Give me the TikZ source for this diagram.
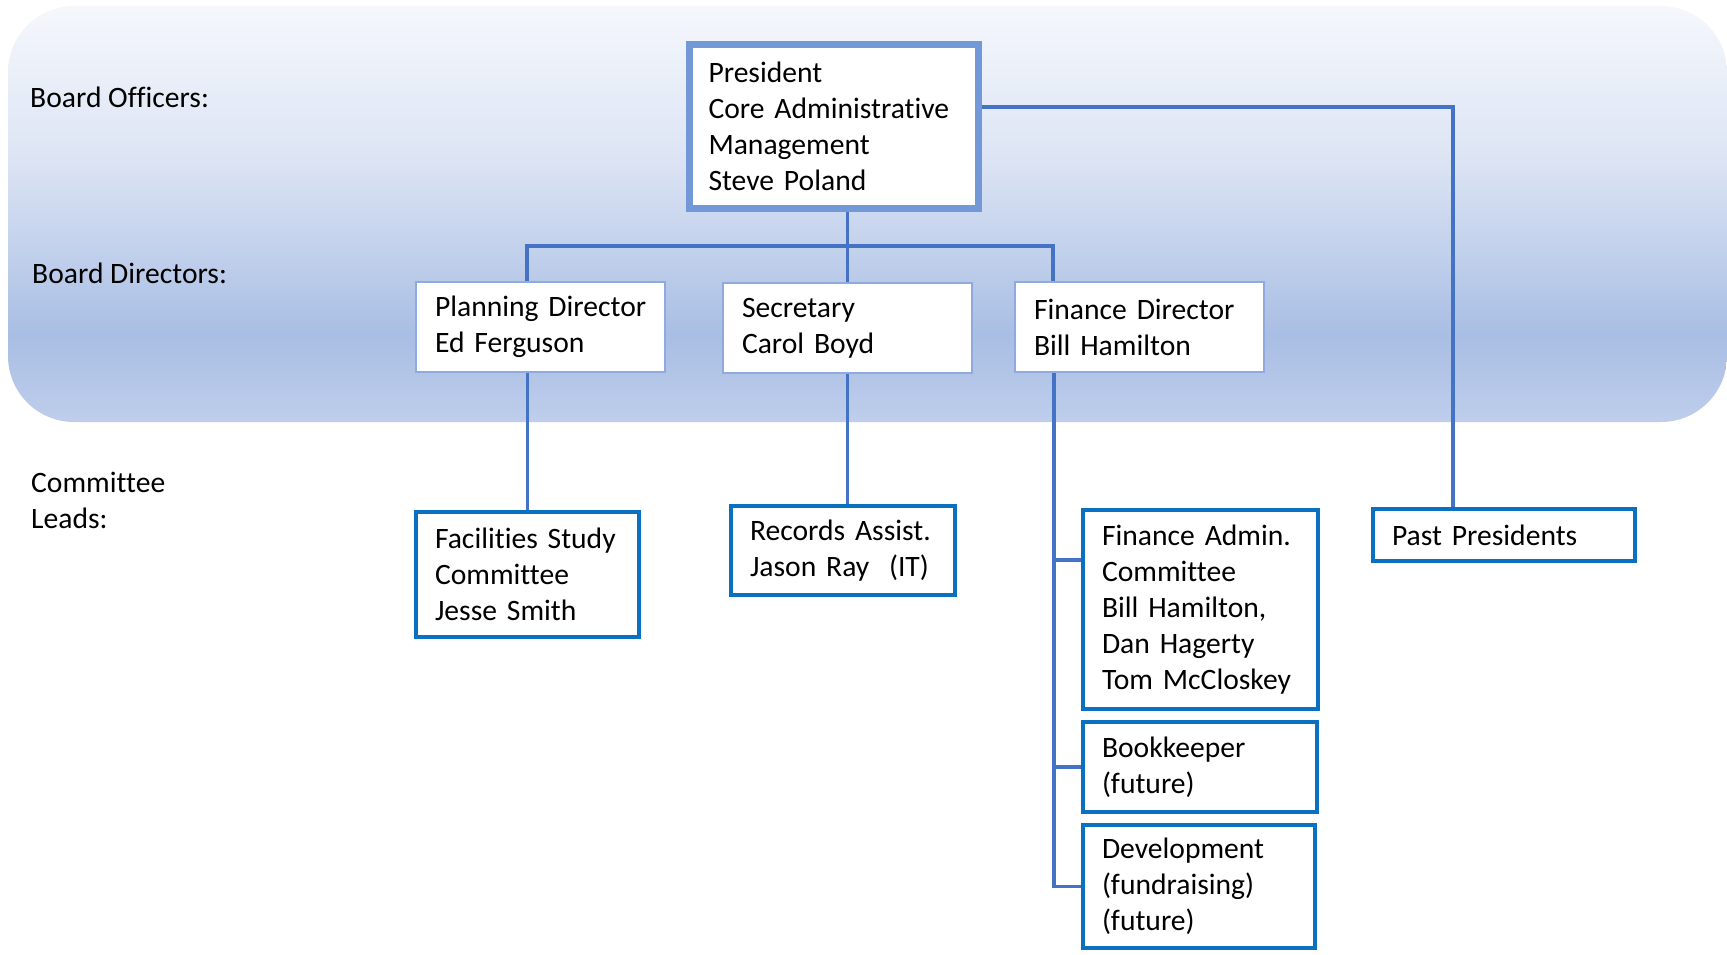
\documentclass[tikz,border=0pt]{standalone}
\usepackage{fontspec}
\setmainfont{Carlito}[Ligatures=NoCommon]
\usetikzlibrary{calc}
\definecolor{linkblue}{HTML}{4472C4}
\definecolor{presb}{HTML}{7398D8}
\definecolor{dirb}{HTML}{8FAADC}
\definecolor{comb}{HTML}{0A70C0}
\definecolor{bgA}{HTML}{F6F8FC}
\definecolor{bgB}{HTML}{DCE4F4}
\definecolor{bgC}{HTML}{A9BEE4}
\definecolor{bgD}{HTML}{C0CFEC}
\newcommand{\chartfont}{\fontsize{29.6}{36}\selectfont\hyphenpenalty=10000\relax\exhyphenpenalty=10000\relax}
\begin{document}
\begin{tikzpicture}[x=1pt,y=-1pt,
  txt/.style={font=\chartfont, text=black},
  box/.style={txt, draw, fill=white, rectangle, align=left, inner xsep=19pt, inner ysep=0pt},
  presbox/.style={box, draw=presb, line width=7pt},
  dirbox/.style={box, draw=dirb, line width=2pt},
  combox/.style={box, draw=comb, line width=4pt},
  link/.style={draw=linkblue, line width=3.5pt},
  lbl/.style={txt, anchor=west, inner sep=0pt, align=left}]
\useasboundingbox (0,0) rectangle (1727,954);
% background band
\begin{scope}
  \clip[rounded corners=66] (8,6) rectangle (1727,422);
  \shade[top color=bgA, bottom color=bgB] (0,0) rectangle (1727,160.5);
  \shade[top color=bgB, bottom color=bgC] (0,160) rectangle (1727,335.5);
  \shade[top color=bgC, bottom color=bgD] (0,335) rectangle (1727,430);
\end{scope}
% row labels
\node[lbl] (lofficers) at (30,97) {Board~Officers:};
\node[lbl] (ldirectors) at (32,273) {Board~Directors:};
\node[lbl] (lleads) at (31,500.5) {Committee\\Leads:};
% boxes
\node[presbox, minimum width=289, minimum height=164, text width=251] (pres) at (834,126.5)
  {President\\Core~Administrative\\Management\\Steve~Poland};
\node[dirbox, minimum width=249, minimum height=90, text width=211] (plan) at (540.5,327)
  {\mbox{Planning~Director}\\Ed~Ferguson};
\node[dirbox, minimum width=249, minimum height=90, text width=211, inner xsep=17pt] (sec) at (847.5,328)
  {Secretary\\Carol~Boyd};
\node[dirbox, minimum width=249, minimum height=90, text width=211] (fin) at (1139.5,327)
  {Finance~Director\\Bill~Hamilton};
\node[combox, minimum width=223, minimum height=125, text width=185] (fac) at (527.5,574.5)
  {Facilities~Study\\Committee\\Jesse~Smith};
\node[combox, minimum width=224, minimum height=89, text width=186] (rec) at (843,550.5)
  {Records~Assist.\\Jason~Ray~~(IT)};
\node[combox, minimum width=235, minimum height=199, text width=197] (fa) at (1200.5,609.5)
  {Finance~Admin.\\Committee\\Bill~Hamilton,\\Dan~Hagerty\\Tom~McCloskey};
\node[combox, minimum width=234, minimum height=90, text width=196] (bk) at (1200,767)
  {Bookkeeper\\(future)};
\node[combox, minimum width=232, minimum height=123, text width=194] (dev) at (1199,886.5)
  {Development\\(fundraising)\\(future)};
\node[combox, minimum width=262, minimum height=52, text width=224] (pp) at (1504,535)
  {Past~Presidents};
% connectors
\coordinate (busL) at (527,246);
\coordinate (busR) at (1053,246);
\draw[link] (sec.north) -- (sec.north |- pres.south);
\draw[link] (busL |- plan.north) -- (busL) -- (busR) -- (busR |- fin.north);
\draw[link] (fac.north) -- (fac.north |- plan.south);
\draw[link] (sec.south) -- (sec.south |- rec.north);
\coordinate (spine) at (1054,0);
\draw[link] (spine |- fin.south) |- (dev.west);
\draw[link] (spine |- bk.west) -- (bk.west);
\coordinate (fab) at (1054,560);
\draw[link] (fab) -- (fab -| fa.west);
\coordinate (ppc) at (1453,107);
\draw[link] (ppc -| pres.east) -- (ppc) -- (ppc |- pp.north);
\end{tikzpicture}
\end{document}
